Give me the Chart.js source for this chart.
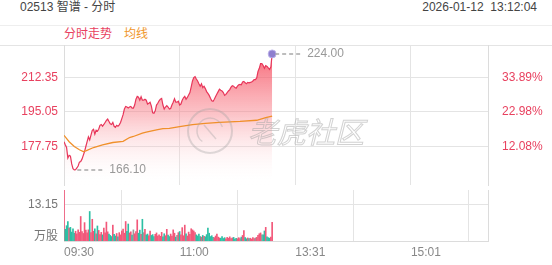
<!DOCTYPE html>
<html>
<head>
<meta charset="utf-8">
<script src="https://cdn.jsdelivr.net/npm/chart.js@4.4.1/dist/chart.umd.min.js"></script>
<style>
  body { margin: 0; width: 552px; height: 265px; overflow: hidden; background: #fff; position: relative;
         font-family: "Liberation Sans", Arial, "Noto Sans CJK SC", sans-serif; }
  .title { position: absolute; left: 20px; top: 0; line-height: 15px; font-size: 12px; color: #444; }
  .date { position: absolute; right: 15px; top: 0; line-height: 15px; font-size: 12px; color: #444; white-space: pre; }
  .legend { position: absolute; left: 0; right: 0; top: 25px; height: 19px; line-height: 17px; font-size: 12px;
            border-top: 1px solid #eee; border-bottom: 1px solid #e4e4e4; }
  .legend span { position: absolute; top: 0; }
  #priceChart { position: absolute; left: 0; top: 0; }
  #volChart { position: absolute; left: 0; top: 190px; }
</style>
</head>
<body>
<div class="title">02513 智谱 - 分时</div>
<div class="date">2026-01-12  13:12:04</div>
<div class="legend">
  <span style="left:64px;color:#e8415f">分时走势</span>
  <span style="left:124px;color:#f0962a">均线</span>
</div>
<canvas id="priceChart" width="552" height="190"></canvas>
<canvas id="volChart" width="552" height="75"></canvas>
<script>
// 分时数据 (每分钟, 09:30 起, 午休压缩)
const prevClose = 158.6;
const priceMax = 228.45;
const volMax = 18.32;

const prices = [
  180.2, 178.7, 177.3, 172.0, 173.4, 173.0, 169.1, 166.7, 166.1, 166.2,
  167.1, 168.1, 170.0, 170.3, 171.5, 173.4, 175.3, 177.8, 180.2, 182.6,
  181.1, 183.5, 185.9, 186.4, 184.0, 185.9, 185.5, 186.4, 188.4, 188.8,
  187.9, 188.8, 189.8, 190.8, 191.5, 190.3, 189.1, 188.8, 189.8, 187.9,
  187.4, 188.4, 187.9, 188.6, 189.8, 191.7, 193.7, 196.5, 197.8, 197.5,
  197.0, 197.5, 197.8, 197.0, 197.0, 198.5, 201.4, 202.8, 202.4, 200.9,
  202.6, 200.9, 200.9, 201.4, 200.9, 199.0, 199.4, 199.9, 198.0, 194.6,
  194.4, 195.6, 198.5, 199.4, 200.6, 201.4, 201.8, 198.5, 196.5, 197.5,
  198.2, 197.5, 196.5, 196.8, 198.5, 199.9, 201.6, 199.9, 199.9, 200.4,
  198.5, 199.0, 200.9, 202.1, 202.8, 201.4, 202.3, 203.5, 204.7, 207.6,
  210.5, 212.2, 212.7, 211.5, 210.5, 209.1, 207.9, 209.1, 207.2, 207.9,
  206.7, 205.2, 204.3, 203.3, 201.9, 200.6, 200.4, 201.4, 202.8, 204.0,
  205.2, 206.4, 205.9, 205.5, 204.7, 203.3, 203.8, 204.7, 205.5, 206.2,
  207.4, 208.1, 207.9, 207.2, 206.9, 207.9, 208.6, 208.8, 208.6, 210.0,
  210.3, 209.6, 209.1, 209.8, 209.6, 209.8, 210.0, 210.5, 211.2, 211.2,
  212.0, 215.3, 216.8, 219.2, 219.2, 218.2, 216.8, 218.2, 217.8, 217.0,
  216.3, 217.5, 224.0
];

const volumes = [
  18.3, 4.2, 5.5, 7.0, 4.6, 4.9, 3.2, 4.4, 2.8, 3.5,
  2.6, 4.0, 3.1, 8.8, 3.4, 2.7, 6.6, 3.9, 2.9, 4.0,
  10.6, 3.0, 7.8, 3.5, 4.4, 2.6, 5.4, 3.8, 2.3, 3.1,
  2.2, 4.6, 2.9, 6.8, 3.3, 2.5, 2.0, 1.6, 5.7, 2.4,
  1.8, 2.7, 1.5, 3.0, 2.2, 3.6, 4.3, 2.8, 7.0, 3.5,
  6.1, 2.9, 3.3, 2.1, 4.0, 2.6, 3.4, 7.6, 2.8, 3.9,
  2.4, 7.8, 3.0, 4.2, 2.2, 2.5, 1.9, 3.6, 2.0, 2.3,
  1.6, 2.4, 2.9, 1.8, 2.2, 1.7, 3.1, 1.5, 2.6, 1.9,
  4.2, 2.1, 1.6, 2.5, 1.8, 4.0, 2.8, 1.4, 2.0, 3.0,
  3.4, 2.2, 4.8, 1.9, 5.7, 2.6, 1.8, 3.2, 2.4, 4.4,
  4.0, 3.6, 3.0, 2.2, 1.8, 2.5, 1.6, 1.4, 2.0, 1.7,
  1.5, 2.3, 4.6, 2.8, 1.6, 1.9, 1.3, 1.2, 1.8, 2.5,
  1.4, 1.1, 1.0, 1.6, 0.9, 1.2, 0.8, 1.3, 1.0, 1.5,
  0.9, 1.1, 1.3, 0.7, 1.0, 0.8, 1.2, 0.9, 1.4, 2.0,
  3.7, 1.2, 0.8, 1.1, 0.9, 1.0, 0.7, 1.2, 0.9, 1.1,
  1.3, 2.0, 2.6, 2.9, 2.2, 2.2, 3.6, 4.9, 1.5, 1.2,
  1.0, 1.4, 6.7
];

// 均线 (读图取点)
const avgTimes  = [0, 4, 8, 12, 15, 17, 23, 30, 38, 46, 51, 54, 61, 64, 72, 77, 82, 90, 100, 110, 121, 137, 150, 157, 162];
const avgValues = [183.4, 180.2, 177.8, 176.2, 175.3, 175.6, 177.3, 178.6, 179.8, 180.4, 182.3, 182.8, 184.5, 185.0,
                   186.1, 186.7, 186.9, 187.7, 188.7, 189.3, 189.8, 190.3, 190.9, 192.2, 193.0];

// 坐标轴刻度
const xTickValues = [0, 90, 180, 270];
const timeLabels = ['09:30', '11:00', '13:31', '15:01'];
const priceTicks = [177.75, 195.05, 212.35];
const pctLabels = ['12.08%', '22.98%', '33.89%'];
const volTickValues = [1.4, 13.15];
const volTickLabels = ['万股', '13.15'];

const FONT = '"Liberation Sans", Arial, "Noto Sans CJK SC", sans-serif';
Chart.defaults.font.family = FONT;
Chart.defaults.font.size = 12;

const RED = '#e8415f';
const GRID = '#e4e4e4';
const BORDER = '#dcdcdc';

function fixWidth(s) { s.width = 64; s.paddingTop = 0; s.paddingBottom = 0; }
function setXTicks(s) { s.ticks = xTickValues.map(v => ({ value: v })); }

const hi = Math.max(...prices), lo = Math.min(...prices);
const hiIdx = prices.indexOf(hi), loIdx = prices.indexOf(lo);

// 最高/最低标注 + 水印
const markPlugin = {
  id: 'marks',
  afterDatasetsDraw(chart) {
    const { ctx, chartArea: a, scales: { x, y } } = chart;
    ctx.save();
    // watermark
    ctx.strokeStyle = 'rgba(160,160,160,0.35)';
    ctx.lineWidth = 2;
    ctx.beginPath();
    ctx.arc(a.left + 146, a.top + 86, 22, 0, Math.PI * 2);
    ctx.stroke();
    ctx.lineWidth = 1.5;
    ctx.beginPath();
    ctx.arc(a.left + 146, a.top + 86, 13, Math.PI * 0.7, Math.PI * 1.9);
    ctx.stroke();
    ctx.beginPath();
    ctx.moveTo(a.left + 140, a.top + 80);
    ctx.lineTo(a.left + 152, a.top + 94);
    ctx.stroke();
    ctx.font = 'italic 29px "Noto Sans CJK SC"';
    ctx.lineWidth = 1;
    ctx.strokeStyle = 'rgba(165,165,165,0.5)';
    ctx.textBaseline = 'middle';
    ctx.strokeText('老虎社区', a.left + 184, a.top + 87);

    [[hiIdx, hi], [loIdx, lo]].forEach(([i, v]) => {
      const px = x.getPixelForValue(i), py = y.getPixelForValue(v);
      ctx.setLineDash([4, 3]);
      ctx.strokeStyle = '#a8a8a8';
      ctx.lineWidth = 1.5;
      ctx.beginPath();
      ctx.moveTo(px + 3, py);
      ctx.lineTo(px + 28, py);
      ctx.stroke();
      ctx.setLineDash([]);
      ctx.fillStyle = '#999';
      ctx.font = '12px ' + FONT;
      ctx.textBaseline = 'middle';
      ctx.fillText(v.toFixed(2), px + 35, py);
    });
    ctx.restore();
  }
};

new Chart(document.getElementById('priceChart'), {
  type: 'line',
  data: {
    datasets: [
      {
        data: [{ x: hiIdx, y: hi }],
        pointRadius: 4, pointBackgroundColor: '#8e7fcf', pointBorderColor: 'rgba(190,180,235,0.9)', pointBorderWidth: 1,
        showLine: false, order: 0
      },
      {
        data: avgValues.map((v, i) => ({ x: avgTimes[i], y: v })),
        borderColor: '#f0902a', borderWidth: 1.3, pointRadius: 0, fill: false, order: 1
      },
      {
        data: prices.map((v, i) => ({ x: i, y: v })),
        borderColor: '#e8365a', borderWidth: 1.2, pointRadius: 0, tension: 0,
        fill: 'start',
        backgroundColor: c => {
          const a = c.chart.chartArea;
          if (!a) return 'transparent';
          const g = c.chart.ctx.createLinearGradient(0, a.top, 0, a.bottom);
          g.addColorStop(0, 'rgba(244,60,80,0.85)');
          g.addColorStop(0.5, 'rgba(248,125,135,0.45)');
          g.addColorStop(1, 'rgba(255,255,255,0)');
          return g;
        },
        order: 2
      }
    ]
  },
  options: {
    responsive: false, animation: false, devicePixelRatio: 1,
    layout: { padding: { top: 45, left: 0, right: 0, bottom: 0 } },
    plugins: { legend: { display: false }, tooltip: { enabled: false } },
    scales: {
      x: {
        type: 'linear', min: 0, max: 330, afterBuildTicks: setXTicks,
        ticks: { display: false }, grid: { color: GRID, drawTicks: false }, border: { display: false },
        afterFit: s => { s.height = 0; s.paddingLeft = 0; s.paddingRight = 0; }
      },
      y: {
        position: 'left', min: prevClose, max: priceMax,
        afterBuildTicks: s => { s.ticks = priceTicks.map(v => ({ value: v })); },
        ticks: { color: RED, padding: 6, callback: v => v.toFixed(2) },
        grid: { color: GRID, drawTicks: false }, border: { color: BORDER },
        afterFit: fixWidth
      },
      y2: {
        position: 'right', min: prevClose, max: priceMax,
        afterBuildTicks: s => { s.ticks = priceTicks.map(v => ({ value: v })); },
        ticks: { color: RED, padding: 6, callback: (v, i) => pctLabels[i] },
        grid: { display: false }, border: { color: BORDER },
        afterFit: fixWidth
      }
    }
  },
  plugins: [markPlugin]
});

// 成交量颜色: 涨红跌绿
const barColors = volumes.map((v, i) => {
  const prev = i === 0 ? prevClose : prices[i - 1];
  if (prices[i] > prev) return '#f2587a';
  if (prices[i] < prev) return '#2cbfa4';
  return '#9a9a9a';
});

new Chart(document.getElementById('volChart'), {
  type: 'bar',
  data: {
    datasets: [{
      data: volumes.map((v, i) => ({ x: i, y: v })),
      backgroundColor: barColors, barThickness: 1
    }]
  },
  options: {
    responsive: false, animation: false, devicePixelRatio: 1,
    layout: { padding: 0 },
    plugins: { legend: { display: false }, tooltip: { enabled: false } },
    scales: {
      x: {
        type: 'linear', min: 0, max: 330, offset: false, afterBuildTicks: setXTicks,
        ticks: { align: 'start', color: '#888', padding: 4, maxRotation: 0, autoSkip: false, callback: (v, i) => timeLabels[i] },
        grid: { color: GRID, drawTicks: false }, border: { color: BORDER },
        afterFit: s => { s.height = 24; s.paddingLeft = 0; s.paddingRight = 0; }
      },
      y: {
        position: 'left', min: 0, max: volMax,
        afterBuildTicks: s => { s.ticks = volTickValues.map(v => ({ value: v })); },
        ticks: { color: '#777', padding: 6, callback: (v, i) => volTickLabels[i] },
        grid: { color: c => c.index === 1 ? GRID : 'rgba(0,0,0,0)', drawTicks: false }, border: { color: BORDER },
        afterFit: fixWidth
      },
      yr: {
        type: 'linear', position: 'right', min: 0, max: 1,
        ticks: { display: false }, grid: { display: false }, border: { color: BORDER },
        afterFit: fixWidth
      }
    }
  }
});
</script>
</body>
</html>
